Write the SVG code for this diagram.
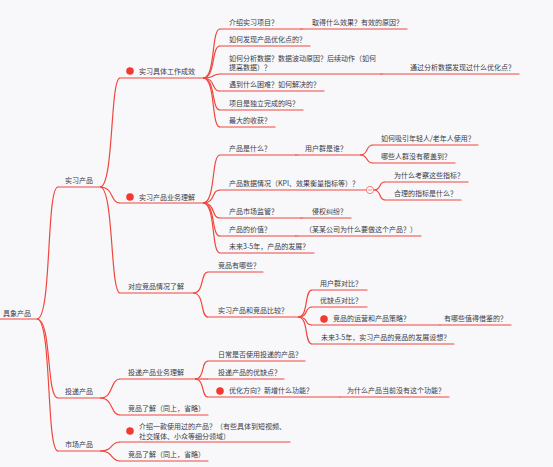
<svg xmlns="http://www.w3.org/2000/svg" width="553" height="467" viewBox="0 0 553 467">
<style>
text{font-family:"Noto Sans CJK SC","Noto Sans",sans-serif;font-size:7px;fill:#3a3a46}
.u{stroke:#f0473d;stroke-width:1.2;fill:none;stroke-linecap:round}
.c{stroke:#f0473d;stroke-width:1.2;fill:none}
.d{fill:#f23a30}
</style>
<rect width="553" height="467" fill="#f8f8fa"/>
<g id="connectors">
<path class="c" d="M37,319 C52,319 46,187 58,187"/>
<path class="c" d="M37,319 C52,319 46,398 58,398"/>
<path class="c" d="M37,319 C52,319 46,451 58,451"/>
<path class="c" d="M100,187 C114,187 110,78 120,78"/>
<path class="c" d="M100,187 C114,187 110,203 120,203"/>
<path class="c" d="M100,187 C114,187 110,293 120,293"/>
<path class="c" d="M100,398 C114,398 110,379 120,379"/>
<path class="c" d="M100,398 C114,398 110,415 120,415"/>
<path class="c" d="M100,451 C114,451 110,442 120,442"/>
<path class="c" d="M100,451 C114,451 110,461 120,461"/>
<path class="c" d="M203,78 C216,78 211,29 220,29"/>
<path class="c" d="M203,78 C216,78 211,46 220,46"/>
<path class="c" d="M203,78 C216,78 211,74 220,74"/>
<path class="c" d="M203,78 C216,78 211,91 220,91"/>
<path class="c" d="M203,78 C216,78 211,110 220,110"/>
<path class="c" d="M203,78 C216,78 211,127 220,127"/>
<path class="c" d="M203,203 C216,203 211,155 220,155"/>
<path class="c" d="M203,203 C216,203 211,190 220,190"/>
<path class="c" d="M203,203 C216,203 211,218 220,218"/>
<path class="c" d="M203,203 C216,203 211,236 220,236"/>
<path class="c" d="M203,203 C216,203 211,253 220,253"/>
<path class="c" d="M360,155 C369,155 365,145 373,145"/>
<path class="c" d="M360,155 C369,155 365,163 373,163"/>
<path class="c" d="M374,190 C382,190 378,182 385,182"/>
<path class="c" d="M374,190 C382,190 378,200 385,200"/>
<path class="c" d="M193,293 C205,293 200,272 208,272"/>
<path class="c" d="M193,293 C205,293 200,317 208,317"/>
<path class="c" d="M298,317 C309,317 304,290 312,290"/>
<path class="c" d="M298,317 C309,317 304,307 312,307"/>
<path class="c" d="M298,317 C309,317 304,325 312,325"/>
<path class="c" d="M298,317 C309,317 304,344 312,344"/>
<path class="c" d="M195,379 C205,379 201,361 208,361"/>
<path class="c" d="M195,379 C205,379 201,379 208,379"/>
<path class="c" d="M195,379 C205,379 201,397 208,397"/>
<path class="c" d="M300,29 L303,29"/>
<path class="c" d="M380,74 L383,74"/>
<path class="c" d="M295,155 L298,155"/>
<path class="c" d="M300,218 L303,218"/>
<path class="c" d="M295,236 L298,236"/>
</g>
<g id="root"><text x="3" y="315.5">具象产品</text><line class="u" x1="0" y1="319" x2="37" y2="319"/></g>
<g id="n-shixi"><text x="65" y="183">实习产品</text><line class="u" x1="58" y1="187" x2="100" y2="187"/></g>
<g id="n-toudi"><text x="65" y="394">投递产品</text><line class="u" x1="58" y1="398" x2="100" y2="398"/></g>
<g id="n-shichang"><text x="65" y="447">市场产品</text><line class="u" x1="58" y1="451" x2="100" y2="451"/></g>
<g id="n-gongzuo"><circle class="d" cx="130" cy="71" r="3.8"/><text x="139" y="74">实习具体工作成效</text><line class="u" x1="120" y1="78" x2="203" y2="78"/></g>
<g id="n-yewu"><circle class="d" cx="130" cy="197" r="3.8"/><text x="139" y="200">实习产品业务理解</text><line class="u" x1="120" y1="203" x2="203" y2="203"/></g>
<g id="n-jingpin"><text x="128" y="289">对应竞品情况了解</text><line class="u" x1="120" y1="293" x2="193" y2="293"/></g>
<g id="n-toudiyewu"><text x="128" y="375">投递产品业务理解</text><line class="u" x1="120" y1="379" x2="195" y2="379"/></g>
<g id="n-toudijp"><text x="128" y="411">竞品了解（同上，省略）</text><line class="u" x1="120" y1="415" x2="208" y2="415"/></g>
<g id="n-jieshao"><circle class="d" cx="130" cy="431" r="3.8"/><text x="139" y="428.5">介绍一款使用过的产品？（有些具体到短视频、</text><text x="139" y="438.5">社交媒体、小众等细分领域）</text><line class="u" x1="120" y1="442" x2="290" y2="442"/></g>
<g id="n-shichangjp"><text x="128" y="457">竞品了解（同上，省略）</text><line class="u" x1="120" y1="461" x2="208" y2="461"/></g>
<g id="n-a1"><text x="229" y="25">介绍实习项目？</text><line class="u" x1="220" y1="29" x2="300" y2="29"/></g>
<g id="n-a1c"><text x="312" y="25">取得什么效果？有效的原因？</text><line class="u" x1="303" y1="29" x2="407" y2="29"/></g>
<g id="n-a2"><text x="229" y="42">如何发现产品优化点的？</text><line class="u" x1="220" y1="46" x2="310" y2="46"/></g>
<g id="n-a3"><text x="229" y="60.5">如何分析数据？数据波动原因？后续动作（如何</text><text x="229" y="70">提高数据）？</text><line class="u" x1="220" y1="74" x2="380" y2="74"/></g>
<g id="n-a3c"><text x="410" y="70">通过分析数据发现过什么优化点？</text><line class="u" x1="383" y1="74" x2="519" y2="74"/></g>
<g id="n-a4"><text x="229" y="87">遇到什么困难？如何解决的？</text><line class="u" x1="220" y1="91" x2="324" y2="91"/></g>
<g id="n-a5"><text x="229" y="106">项目是独立完成的吗？</text><line class="u" x1="220" y1="110" x2="303" y2="110"/></g>
<g id="n-a6"><text x="229" y="123">最大的收获？</text><line class="u" x1="220" y1="127" x2="275" y2="127"/></g>
<g id="n-b1"><text x="229" y="151">产品是什么？</text><line class="u" x1="220" y1="155" x2="295" y2="155"/></g>
<g id="n-b1c"><text x="305" y="151">用户群是谁？</text><line class="u" x1="298" y1="155" x2="360" y2="155"/></g>
<g id="n-b1c1"><text x="381" y="141">如何吸引年轻人/老年人使用？</text><line class="u" x1="373" y1="145" x2="478" y2="145"/></g>
<g id="n-b1c2"><text x="381" y="159">哪些人群没有覆盖到？</text><line class="u" x1="373" y1="163" x2="455" y2="163"/></g>
<g id="n-b2"><text x="229" y="186">产品数据情况（KPI、效果衡量指标等）？</text><line class="u" x1="220" y1="190" x2="366" y2="190"/><circle cx="370" cy="190" r="3.6" fill="#fff" stroke="#f47b73" stroke-width="1"/><line x1="368" y1="190" x2="372" y2="190" stroke="#f47b73" stroke-width="0.9"/></g>
<g id="n-b2c1"><text x="394" y="178">为什么考察这些指标？</text><line class="u" x1="385" y1="182" x2="468" y2="182"/></g>
<g id="n-b2c2"><text x="394" y="196">合理的指标是什么？</text><line class="u" x1="385" y1="200" x2="461" y2="200"/></g>
<g id="n-b3"><text x="229" y="214">产品市场监管？</text><line class="u" x1="220" y1="218" x2="300" y2="218"/></g>
<g id="n-b3c"><text x="312" y="214">侵权纠纷？</text><line class="u" x1="303" y1="218" x2="351" y2="218"/></g>
<g id="n-b4"><text x="229" y="232">产品的价值？</text><line class="u" x1="220" y1="236" x2="295" y2="236"/></g>
<g id="n-b4c"><text x="305" y="232">（某某公司为什么要做这个产品？）</text><line class="u" x1="298" y1="236" x2="421" y2="236"/></g>
<g id="n-b5"><text x="229" y="249">未来3-5年，产品的发展？</text><line class="u" x1="220" y1="253" x2="314" y2="253"/></g>
<g id="n-c1"><text x="218" y="268">竞品有哪些？</text><line class="u" x1="208" y1="272" x2="263" y2="272"/></g>
<g id="n-c2"><text x="218" y="313">实习产品和竞品比较？</text><line class="u" x1="208" y1="317" x2="298" y2="317"/></g>
<g id="n-c2a"><text x="320" y="286">用户群对比？</text><line class="u" x1="312" y1="290" x2="367" y2="290"/></g>
<g id="n-c2b"><text x="320" y="303">优缺点对比？</text><line class="u" x1="312" y1="307" x2="367" y2="307"/></g>
<g id="n-c2c"><circle class="d" cx="324" cy="319" r="3.8"/><text x="333" y="321">竞品的运营和产品策略？</text><line class="u" x1="312" y1="325" x2="440" y2="325"/></g>
<g id="n-c2cc"><text x="444" y="321">有哪些值得借鉴的？</text><line class="u" x1="440" y1="325" x2="511" y2="325"/></g>
<g id="n-c2d"><text x="321" y="340">未来3-5年，实习产品的竞品的发展设想？</text><line class="u" x1="312" y1="344" x2="454" y2="344"/></g>
<g id="n-d1"><text x="218" y="357">日常是否使用投递的产品？</text><line class="u" x1="208" y1="361" x2="305" y2="361"/></g>
<g id="n-d2"><text x="218" y="375">投递产品的优缺点？</text><line class="u" x1="208" y1="379" x2="284" y2="379"/></g>
<g id="n-d3"><circle class="d" cx="220" cy="391" r="3.8"/><text x="229" y="393">优化方向？新增什么功能？</text><line class="u" x1="208" y1="397" x2="340" y2="397"/></g>
<g id="n-d3c"><text x="347" y="393">为什么产品当前没有这个功能？</text><line class="u" x1="340" y1="397" x2="449" y2="397"/></g>
</svg>
